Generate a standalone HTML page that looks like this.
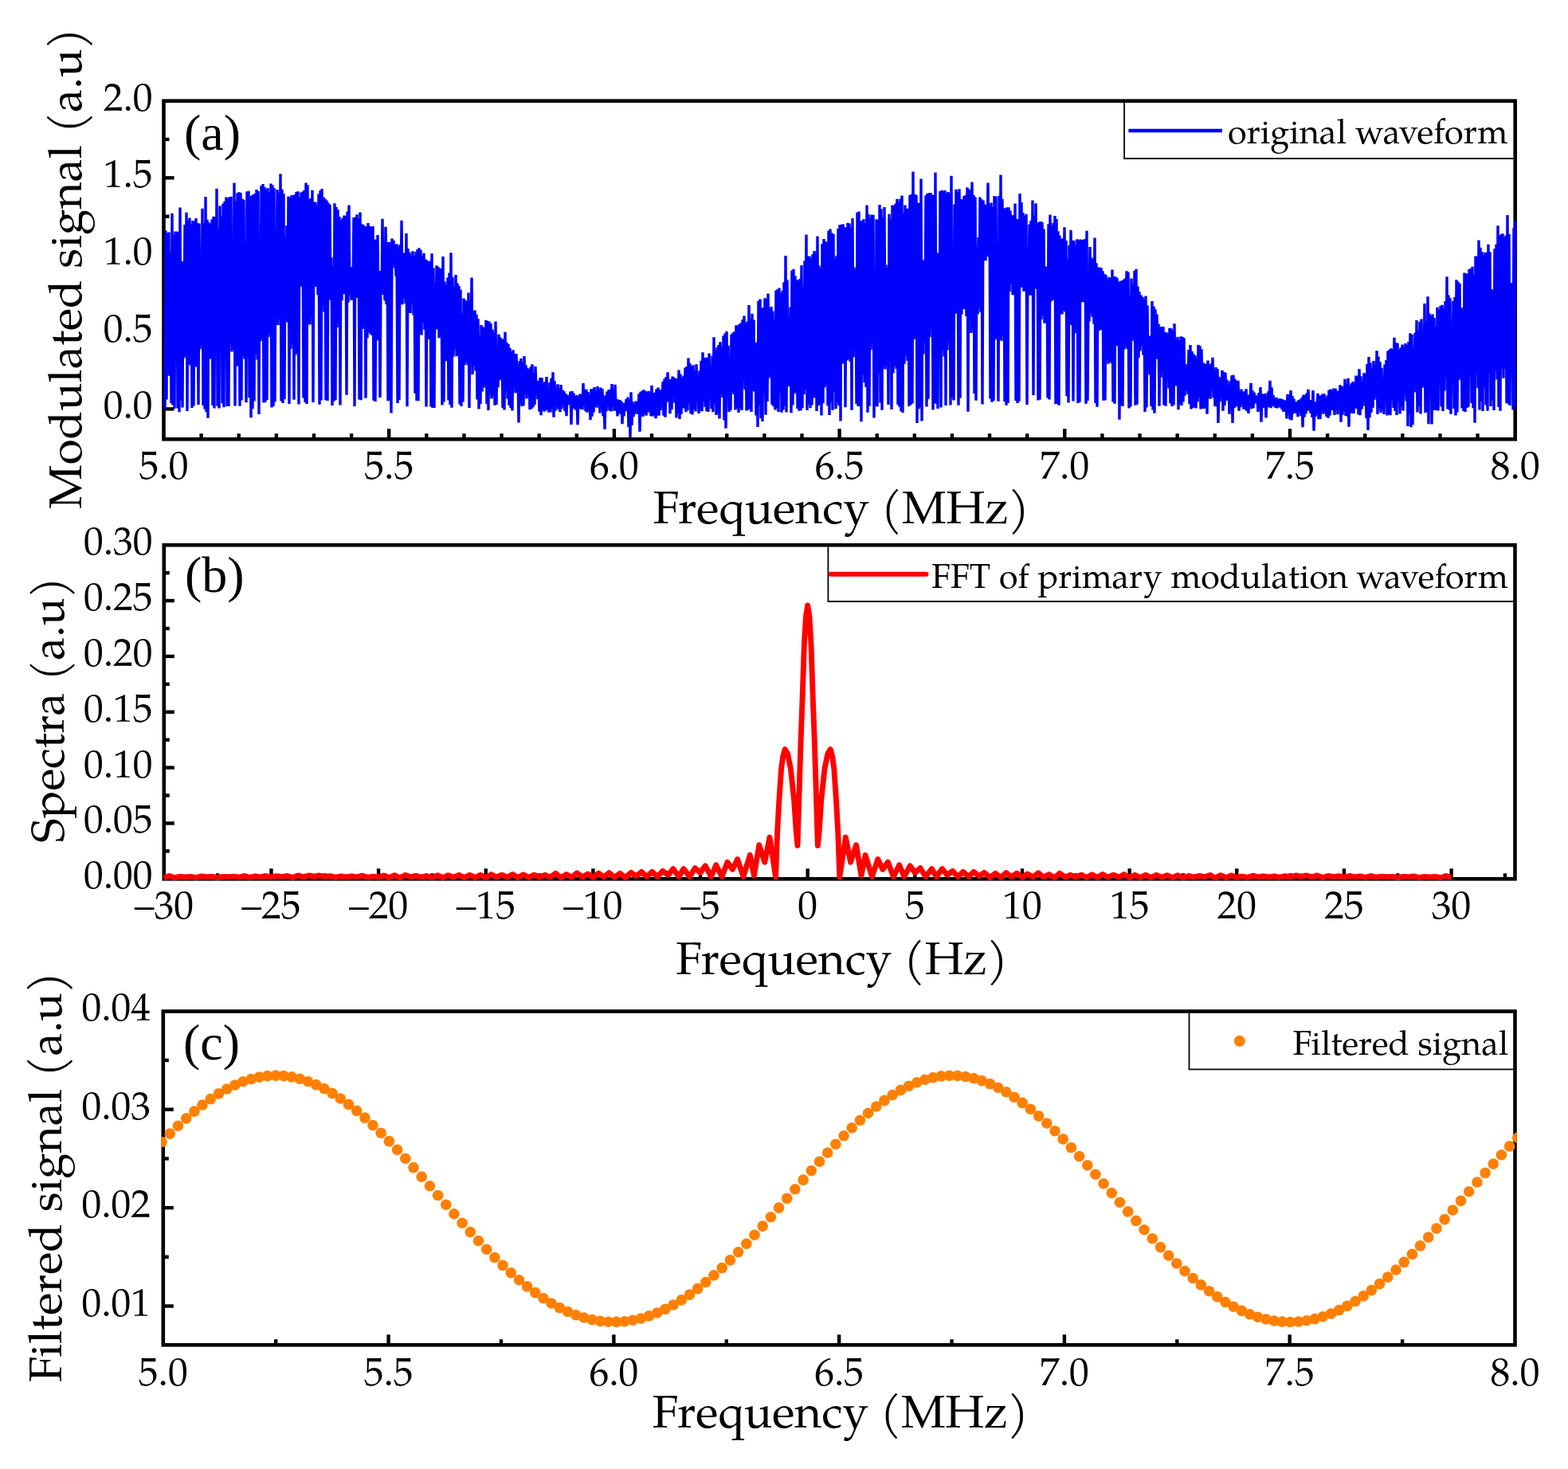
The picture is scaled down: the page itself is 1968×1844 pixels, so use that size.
<!DOCTYPE html>
<html><head><meta charset="utf-8"><title>Figure</title><style>html,body{margin:0;padding:0;background:#fff;}svg{display:block;}</style></head><body>
<svg width="1968" height="1844" viewBox="0 0 1968 1844">
<rect width="1968" height="1844" fill="#fff"/>
<defs>
<clipPath id="ca"><rect x="203.2" y="124.4" width="1700.8" height="429.2"/></clipPath>
<clipPath id="cc"><rect x="202.5" y="1267.2" width="1701.3" height="423.4"/></clipPath>
</defs>
<rect x="205.5" y="126.7" width="1696.2" height="424.6" fill="none" stroke="#000" stroke-width="4.6" stroke-linejoin="miter"/>
<rect x="205.8" y="684.2" width="1695.7" height="419.1" fill="none" stroke="#000" stroke-width="4.6" stroke-linejoin="miter"/>
<rect x="204.8" y="1269.5" width="1696.7" height="418.8" fill="none" stroke="#000" stroke-width="4.6" stroke-linejoin="miter"/>
<line x1="205.5" y1="513.40" x2="218.50" y2="513.40" stroke="#000" stroke-width="4.4"/>
<line x1="205.5" y1="416.70" x2="218.50" y2="416.70" stroke="#000" stroke-width="4.4"/>
<line x1="205.5" y1="320.00" x2="218.50" y2="320.00" stroke="#000" stroke-width="4.4"/>
<line x1="205.5" y1="223.30" x2="218.50" y2="223.30" stroke="#000" stroke-width="4.4"/>
<line x1="205.5" y1="465.05" x2="212.50" y2="465.05" stroke="#000" stroke-width="4.4"/>
<line x1="205.5" y1="368.35" x2="212.50" y2="368.35" stroke="#000" stroke-width="4.4"/>
<line x1="205.5" y1="271.65" x2="212.50" y2="271.65" stroke="#000" stroke-width="4.4"/>
<line x1="205.5" y1="174.95" x2="212.50" y2="174.95" stroke="#000" stroke-width="4.4"/>
<line x1="488.20" y1="551.3" x2="488.20" y2="538.30" stroke="#000" stroke-width="4.4"/>
<line x1="770.90" y1="551.3" x2="770.90" y2="538.30" stroke="#000" stroke-width="4.4"/>
<line x1="1053.60" y1="551.3" x2="1053.60" y2="538.30" stroke="#000" stroke-width="4.4"/>
<line x1="1336.30" y1="551.3" x2="1336.30" y2="538.30" stroke="#000" stroke-width="4.4"/>
<line x1="1619.00" y1="551.3" x2="1619.00" y2="538.30" stroke="#000" stroke-width="4.4"/>
<line x1="252.62" y1="551.3" x2="252.62" y2="544.30" stroke="#000" stroke-width="4.4"/>
<line x1="299.73" y1="551.3" x2="299.73" y2="544.30" stroke="#000" stroke-width="4.4"/>
<line x1="346.85" y1="551.3" x2="346.85" y2="544.30" stroke="#000" stroke-width="4.4"/>
<line x1="393.97" y1="551.3" x2="393.97" y2="544.30" stroke="#000" stroke-width="4.4"/>
<line x1="441.08" y1="551.3" x2="441.08" y2="544.30" stroke="#000" stroke-width="4.4"/>
<line x1="535.32" y1="551.3" x2="535.32" y2="544.30" stroke="#000" stroke-width="4.4"/>
<line x1="582.43" y1="551.3" x2="582.43" y2="544.30" stroke="#000" stroke-width="4.4"/>
<line x1="629.55" y1="551.3" x2="629.55" y2="544.30" stroke="#000" stroke-width="4.4"/>
<line x1="676.67" y1="551.3" x2="676.67" y2="544.30" stroke="#000" stroke-width="4.4"/>
<line x1="723.78" y1="551.3" x2="723.78" y2="544.30" stroke="#000" stroke-width="4.4"/>
<line x1="818.02" y1="551.3" x2="818.02" y2="544.30" stroke="#000" stroke-width="4.4"/>
<line x1="865.13" y1="551.3" x2="865.13" y2="544.30" stroke="#000" stroke-width="4.4"/>
<line x1="912.25" y1="551.3" x2="912.25" y2="544.30" stroke="#000" stroke-width="4.4"/>
<line x1="959.37" y1="551.3" x2="959.37" y2="544.30" stroke="#000" stroke-width="4.4"/>
<line x1="1006.48" y1="551.3" x2="1006.48" y2="544.30" stroke="#000" stroke-width="4.4"/>
<line x1="1100.72" y1="551.3" x2="1100.72" y2="544.30" stroke="#000" stroke-width="4.4"/>
<line x1="1147.83" y1="551.3" x2="1147.83" y2="544.30" stroke="#000" stroke-width="4.4"/>
<line x1="1194.95" y1="551.3" x2="1194.95" y2="544.30" stroke="#000" stroke-width="4.4"/>
<line x1="1242.07" y1="551.3" x2="1242.07" y2="544.30" stroke="#000" stroke-width="4.4"/>
<line x1="1289.18" y1="551.3" x2="1289.18" y2="544.30" stroke="#000" stroke-width="4.4"/>
<line x1="1383.42" y1="551.3" x2="1383.42" y2="544.30" stroke="#000" stroke-width="4.4"/>
<line x1="1430.53" y1="551.3" x2="1430.53" y2="544.30" stroke="#000" stroke-width="4.4"/>
<line x1="1477.65" y1="551.3" x2="1477.65" y2="544.30" stroke="#000" stroke-width="4.4"/>
<line x1="1524.77" y1="551.3" x2="1524.77" y2="544.30" stroke="#000" stroke-width="4.4"/>
<line x1="1571.88" y1="551.3" x2="1571.88" y2="544.30" stroke="#000" stroke-width="4.4"/>
<line x1="1666.12" y1="551.3" x2="1666.12" y2="544.30" stroke="#000" stroke-width="4.4"/>
<line x1="1713.23" y1="551.3" x2="1713.23" y2="544.30" stroke="#000" stroke-width="4.4"/>
<line x1="1760.35" y1="551.3" x2="1760.35" y2="544.30" stroke="#000" stroke-width="4.4"/>
<line x1="1807.47" y1="551.3" x2="1807.47" y2="544.30" stroke="#000" stroke-width="4.4"/>
<line x1="1854.58" y1="551.3" x2="1854.58" y2="544.30" stroke="#000" stroke-width="4.4"/>
<line x1="205.8" y1="1033.45" x2="218.80" y2="1033.45" stroke="#000" stroke-width="4.4"/>
<line x1="205.8" y1="963.60" x2="218.80" y2="963.60" stroke="#000" stroke-width="4.4"/>
<line x1="205.8" y1="893.75" x2="218.80" y2="893.75" stroke="#000" stroke-width="4.4"/>
<line x1="205.8" y1="823.90" x2="218.80" y2="823.90" stroke="#000" stroke-width="4.4"/>
<line x1="205.8" y1="754.05" x2="218.80" y2="754.05" stroke="#000" stroke-width="4.4"/>
<line x1="205.8" y1="1068.38" x2="212.80" y2="1068.38" stroke="#000" stroke-width="4.4"/>
<line x1="205.8" y1="998.52" x2="212.80" y2="998.52" stroke="#000" stroke-width="4.4"/>
<line x1="205.8" y1="928.67" x2="212.80" y2="928.67" stroke="#000" stroke-width="4.4"/>
<line x1="205.8" y1="858.83" x2="212.80" y2="858.83" stroke="#000" stroke-width="4.4"/>
<line x1="205.8" y1="788.97" x2="212.80" y2="788.97" stroke="#000" stroke-width="4.4"/>
<line x1="205.8" y1="719.12" x2="212.80" y2="719.12" stroke="#000" stroke-width="4.4"/>
<line x1="340.45" y1="1103.3" x2="340.45" y2="1090.30" stroke="#000" stroke-width="4.4"/>
<line x1="475.10" y1="1103.3" x2="475.10" y2="1090.30" stroke="#000" stroke-width="4.4"/>
<line x1="609.75" y1="1103.3" x2="609.75" y2="1090.30" stroke="#000" stroke-width="4.4"/>
<line x1="744.40" y1="1103.3" x2="744.40" y2="1090.30" stroke="#000" stroke-width="4.4"/>
<line x1="879.05" y1="1103.3" x2="879.05" y2="1090.30" stroke="#000" stroke-width="4.4"/>
<line x1="1013.70" y1="1103.3" x2="1013.70" y2="1090.30" stroke="#000" stroke-width="4.4"/>
<line x1="1148.35" y1="1103.3" x2="1148.35" y2="1090.30" stroke="#000" stroke-width="4.4"/>
<line x1="1283.00" y1="1103.3" x2="1283.00" y2="1090.30" stroke="#000" stroke-width="4.4"/>
<line x1="1417.65" y1="1103.3" x2="1417.65" y2="1090.30" stroke="#000" stroke-width="4.4"/>
<line x1="1552.30" y1="1103.3" x2="1552.30" y2="1090.30" stroke="#000" stroke-width="4.4"/>
<line x1="1686.95" y1="1103.3" x2="1686.95" y2="1090.30" stroke="#000" stroke-width="4.4"/>
<line x1="1821.60" y1="1103.3" x2="1821.60" y2="1090.30" stroke="#000" stroke-width="4.4"/>
<line x1="273.12" y1="1103.3" x2="273.12" y2="1096.30" stroke="#000" stroke-width="4.4"/>
<line x1="407.77" y1="1103.3" x2="407.77" y2="1096.30" stroke="#000" stroke-width="4.4"/>
<line x1="542.42" y1="1103.3" x2="542.42" y2="1096.30" stroke="#000" stroke-width="4.4"/>
<line x1="677.08" y1="1103.3" x2="677.08" y2="1096.30" stroke="#000" stroke-width="4.4"/>
<line x1="811.72" y1="1103.3" x2="811.72" y2="1096.30" stroke="#000" stroke-width="4.4"/>
<line x1="946.38" y1="1103.3" x2="946.38" y2="1096.30" stroke="#000" stroke-width="4.4"/>
<line x1="1081.03" y1="1103.3" x2="1081.03" y2="1096.30" stroke="#000" stroke-width="4.4"/>
<line x1="1215.67" y1="1103.3" x2="1215.67" y2="1096.30" stroke="#000" stroke-width="4.4"/>
<line x1="1350.33" y1="1103.3" x2="1350.33" y2="1096.30" stroke="#000" stroke-width="4.4"/>
<line x1="1484.97" y1="1103.3" x2="1484.97" y2="1096.30" stroke="#000" stroke-width="4.4"/>
<line x1="1619.62" y1="1103.3" x2="1619.62" y2="1096.30" stroke="#000" stroke-width="4.4"/>
<line x1="1754.27" y1="1103.3" x2="1754.27" y2="1096.30" stroke="#000" stroke-width="4.4"/>
<line x1="1888.92" y1="1103.3" x2="1888.92" y2="1096.30" stroke="#000" stroke-width="4.4"/>
<line x1="204.8" y1="1639.50" x2="217.80" y2="1639.50" stroke="#000" stroke-width="4.4"/>
<line x1="204.8" y1="1516.10" x2="217.80" y2="1516.10" stroke="#000" stroke-width="4.4"/>
<line x1="204.8" y1="1392.70" x2="217.80" y2="1392.70" stroke="#000" stroke-width="4.4"/>
<line x1="204.8" y1="1577.80" x2="211.80" y2="1577.80" stroke="#000" stroke-width="4.4"/>
<line x1="204.8" y1="1454.40" x2="211.80" y2="1454.40" stroke="#000" stroke-width="4.4"/>
<line x1="204.8" y1="1331.00" x2="211.80" y2="1331.00" stroke="#000" stroke-width="4.4"/>
<line x1="487.58" y1="1688.3" x2="487.58" y2="1675.30" stroke="#000" stroke-width="4.4"/>
<line x1="770.37" y1="1688.3" x2="770.37" y2="1675.30" stroke="#000" stroke-width="4.4"/>
<line x1="1053.15" y1="1688.3" x2="1053.15" y2="1675.30" stroke="#000" stroke-width="4.4"/>
<line x1="1335.93" y1="1688.3" x2="1335.93" y2="1675.30" stroke="#000" stroke-width="4.4"/>
<line x1="1618.72" y1="1688.3" x2="1618.72" y2="1675.30" stroke="#000" stroke-width="4.4"/>
<line x1="346.19" y1="1688.3" x2="346.19" y2="1681.30" stroke="#000" stroke-width="4.4"/>
<line x1="628.98" y1="1688.3" x2="628.98" y2="1681.30" stroke="#000" stroke-width="4.4"/>
<line x1="911.76" y1="1688.3" x2="911.76" y2="1681.30" stroke="#000" stroke-width="4.4"/>
<line x1="1194.54" y1="1688.3" x2="1194.54" y2="1681.30" stroke="#000" stroke-width="4.4"/>
<line x1="1477.33" y1="1688.3" x2="1477.33" y2="1681.30" stroke="#000" stroke-width="4.4"/>
<line x1="1760.11" y1="1688.3" x2="1760.11" y2="1681.30" stroke="#000" stroke-width="4.4"/>
<path clip-path="url(#ca)" d="M207.0,512.9 208.0,289.4 209.0,501.6 210.0,292.8 211.0,470.3 212.0,291.4 213.0,472.0 214.0,317.8 215.0,506.3 216.0,267.8 217.0,508.6 218.0,295.0 219.0,512.9 220.0,290.5 221.0,448.4 222.0,290.6 223.0,512.4 224.0,292.1 225.0,517.3 226.0,260.4 227.0,502.5 228.0,328.0 229.0,511.6 230.0,328.3 231.0,449.5 232.0,281.9 233.0,446.5 234.0,266.8 235.0,516.1 236.0,276.8 237.0,457.3 238.0,273.6 239.0,458.5 240.0,280.9 241.0,511.9 242.0,277.1 243.0,509.6 244.0,277.5 245.0,460.3 246.0,274.0 247.0,460.6 248.0,280.0 249.0,507.9 250.0,280.6 251.0,438.5 252.0,341.4 253.0,433.9 254.0,261.7 255.0,508.9 256.0,280.1 257.0,513.5 258.0,247.0 259.0,517.3 260.0,275.8 261.0,524.7 262.0,279.3 263.0,449.6 264.0,281.1 265.0,450.7 266.0,275.6 267.0,509.1 268.0,271.7 269.0,512.5 270.0,272.4 271.0,442.3 272.0,236.8 273.0,509.8 274.0,287.4 275.0,512.4 276.0,258.5 277.0,434.0 278.0,271.4 279.0,506.2 280.0,255.7 281.0,511.2 282.0,252.8 283.0,449.4 284.0,247.6 285.0,510.0 286.0,248.7 287.0,510.0 288.0,247.6 289.0,431.8 290.0,246.8 291.0,441.6 292.0,316.4 293.0,438.2 294.0,229.5 295.0,509.4 296.0,252.2 297.0,458.9 298.0,242.3 299.0,459.7 300.0,241.3 301.0,509.7 302.0,242.1 303.0,502.5 304.0,249.4 305.0,447.3 306.0,250.8 307.0,450.5 308.0,303.1 309.0,505.3 310.0,240.5 311.0,447.9 312.0,239.8 313.0,499.3 314.0,246.5 315.0,524.3 316.0,245.5 317.0,513.2 318.0,244.2 319.0,503.5 320.0,243.0 321.0,444.2 322.0,237.9 323.0,451.5 324.0,239.9 325.0,520.1 326.0,299.5 327.0,428.2 328.0,233.0 329.0,424.9 330.0,231.1 331.0,505.5 332.0,234.8 333.0,504.8 334.0,238.1 335.0,502.0 336.0,235.9 337.0,419.1 338.0,241.5 339.0,423.2 340.0,230.5 341.0,511.5 342.0,232.5 343.0,510.0 344.0,236.1 345.0,504.5 346.0,289.5 347.0,401.1 348.0,238.0 349.0,408.1 350.0,241.7 351.0,400.8 352.0,218.3 353.0,503.5 354.0,237.8 355.0,505.9 356.0,243.3 357.0,501.1 358.0,298.1 359.0,389.4 360.0,282.9 361.0,404.5 362.0,246.5 363.0,507.0 364.0,248.4 365.0,437.9 366.0,245.0 367.0,432.4 368.0,245.2 369.0,501.8 370.0,244.3 371.0,445.5 372.0,241.0 373.0,443.3 374.0,240.3 375.0,507.4 376.0,247.2 377.0,356.9 378.0,241.4 379.0,359.8 380.0,240.4 381.0,499.5 382.0,238.8 383.0,505.1 384.0,229.4 385.0,507.1 386.0,232.2 387.0,406.8 388.0,250.5 389.0,407.4 390.0,249.1 391.0,397.1 392.0,238.8 393.0,505.1 394.0,253.7 395.0,360.1 396.0,253.5 397.0,359.4 398.0,257.4 399.0,370.3 400.0,243.5 401.0,507.7 402.0,239.2 403.0,502.4 404.0,237.1 405.0,382.2 406.0,247.6 407.0,391.6 408.0,249.4 409.0,502.2 410.0,251.5 411.0,503.0 412.0,254.4 413.0,372.6 414.0,256.7 415.0,376.6 416.0,323.2 417.0,508.9 418.0,334.1 419.0,503.7 420.0,255.2 421.0,501.9 422.0,260.0 423.0,410.9 424.0,263.2 425.0,404.9 426.0,272.1 427.0,508.5 428.0,276.2 429.0,377.0 430.0,273.7 431.0,369.3 432.0,270.4 433.0,365.2 434.0,271.2 435.0,495.8 436.0,265.5 437.0,379.8 438.0,257.5 439.0,371.0 440.0,335.2 441.0,376.7 442.0,338.4 443.0,372.6 444.0,272.9 445.0,509.9 446.0,272.5 447.0,374.1 448.0,269.2 449.0,370.4 450.0,273.9 451.0,501.6 452.0,266.6 453.0,502.2 454.0,281.3 455.0,410.1 456.0,282.2 457.0,413.1 458.0,284.3 459.0,499.8 460.0,284.1 461.0,424.5 462.0,280.1 463.0,417.1 464.0,283.7 465.0,419.5 466.0,285.1 467.0,420.7 468.0,284.1 469.0,502.8 470.0,300.6 471.0,504.0 472.0,300.7 473.0,427.0 474.0,294.9 475.0,427.4 476.0,339.9 477.0,499.1 478.0,350.0 479.0,368.7 480.0,274.7 481.0,370.0 482.0,303.5 483.0,377.6 484.0,284.7 485.0,381.9 486.0,303.9 487.0,503.3 488.0,304.0 489.0,502.4 490.0,303.8 491.0,518.5 492.0,299.4 493.0,336.4 494.0,301.9 495.0,333.0 496.0,307.4 497.0,346.8 498.0,306.4 499.0,506.0 500.0,309.5 501.0,502.1 502.0,306.9 503.0,381.3 504.0,276.7 505.0,382.2 506.0,317.8 507.0,374.4 508.0,317.3 509.0,380.9 510.0,293.0 511.0,510.3 512.0,312.0 513.0,392.7 514.0,316.5 515.0,393.1 516.0,320.0 517.0,380.6 518.0,315.3 519.0,395.4 520.0,321.1 521.0,493.7 522.0,315.9 523.0,502.9 524.0,313.0 525.0,503.2 526.0,311.2 527.0,415.4 528.0,313.7 529.0,420.5 530.0,321.1 531.0,405.2 532.0,317.7 533.0,414.1 534.0,325.4 535.0,510.5 536.0,326.7 537.0,425.4 538.0,329.1 539.0,425.9 540.0,327.5 541.0,510.4 542.0,318.2 543.0,512.1 544.0,336.5 545.0,511.9 546.0,354.2 547.0,413.4 548.0,333.2 549.0,413.4 550.0,335.1 551.0,424.2 552.0,337.2 553.0,417.1 554.0,336.7 555.0,508.4 556.0,322.1 557.0,504.5 558.0,353.6 559.0,453.6 560.0,357.2 561.0,452.4 562.0,348.5 563.0,502.6 564.0,342.6 565.0,508.1 566.0,317.3 567.0,511.8 568.0,347.8 569.0,447.8 570.0,360.2 571.0,437.7 572.0,344.9 573.0,447.2 574.0,355.4 575.0,446.2 576.0,358.8 577.0,507.5 578.0,363.4 579.0,509.9 580.0,393.5 581.0,504.4 582.0,374.4 583.0,458.2 584.0,376.8 585.0,454.6 586.0,378.7 587.0,458.2 588.0,367.6 589.0,512.0 590.0,376.6 591.0,456.9 592.0,348.6 593.0,470.0 594.0,389.9 595.0,459.3 596.0,389.5 597.0,465.6 598.0,394.7 599.0,501.6 600.0,400.2 601.0,513.6 602.0,421.1 603.0,507.1 604.0,408.1 605.0,491.4 606.0,410.3 607.0,486.8 608.0,411.7 609.0,484.3 610.0,401.7 611.0,507.2 612.0,402.9 613.0,514.9 614.0,403.5 615.0,495.3 616.0,406.0 617.0,500.6 618.0,413.4 619.0,497.8 620.0,417.2 621.0,508.7 622.0,403.5 623.0,508.0 624.0,439.1 625.0,486.2 626.0,419.8 627.0,477.3 628.0,423.5 629.0,476.1 630.0,426.2 631.0,512.1 632.0,425.2 633.0,514.5 634.0,416.7 635.0,490.7 636.0,430.1 637.0,500.4 638.0,432.1 639.0,508.7 640.0,437.1 641.0,512.3 642.0,441.5 643.0,515.4 644.0,439.4 645.0,482.0 646.0,444.5 647.0,493.1 648.0,444.1 649.0,483.7 650.0,464.0 651.0,530.5 652.0,453.3 653.0,506.4 654.0,450.0 655.0,509.9 656.0,455.3 657.0,509.4 658.0,447.0 659.0,493.9 660.0,458.2 661.0,500.4 662.0,462.4 663.0,487.3 664.0,463.4 665.0,514.1 666.0,460.5 667.0,513.2 668.0,457.4 669.0,511.1 670.0,469.4 671.0,508.1 672.0,460.1 673.0,492.1 674.0,477.8 675.0,501.1 676.0,478.4 677.0,516.7 678.0,474.1 679.0,521.2 680.0,474.2 681.0,514.9 682.0,481.4 683.0,516.6 684.0,479.2 685.0,515.5 686.0,473.0 687.0,514.1 688.0,486.5 689.0,517.8 690.0,480.1 691.0,517.4 692.0,474.9 693.0,513.5 694.0,467.3 695.0,523.7 696.0,478.2 697.0,515.7 698.0,488.6 699.0,511.3 700.0,482.3 701.0,514.1 702.0,489.4 703.0,517.3 704.0,483.1 705.0,513.2 706.0,489.5 707.0,506.1 708.0,491.4 709.0,516.1 710.0,494.2 711.0,522.3 712.0,495.7 713.0,508.2 714.0,498.3 715.0,507.8 716.0,491.5 717.0,533.0 718.0,491.0 719.0,505.8 720.0,493.6 721.0,513.2 722.0,497.7 723.0,514.6 724.0,496.1 725.0,533.3 726.0,498.6 727.0,511.3 728.0,494.6 729.0,513.4 730.0,496.4 731.0,514.2 732.0,481.1 733.0,508.6 734.0,488.7 735.0,516.3 736.0,488.9 737.0,517.6 738.0,492.2 739.0,510.5 740.0,496.2 741.0,527.2 742.0,488.4 743.0,522.9 744.0,488.3 745.0,517.7 746.0,486.1 747.0,509.4 748.0,493.0 749.0,511.7 750.0,485.0 751.0,506.7 752.0,488.8 753.0,518.4 754.0,486.5 755.0,512.7 756.0,488.4 757.0,522.5 758.0,497.7 759.0,538.9 760.0,496.4 761.0,516.3 762.0,491.5 763.0,509.2 764.0,489.4 765.0,515.4 766.0,488.8 767.0,516.4 768.0,482.1 769.0,510.2 770.0,493.1 771.0,515.6 772.0,482.7 773.0,515.6 774.0,500.8 775.0,522.4 776.0,501.8 777.0,519.6 778.0,502.0 779.0,515.4 780.0,503.7 781.0,532.1 782.0,505.8 783.0,522.3 784.0,506.0 785.0,516.2 786.0,501.0 787.0,513.3 788.0,498.6 789.0,535.9 790.0,502.4 791.0,548.9 792.0,492.3 793.0,534.0 794.0,504.4 795.0,523.2 796.0,507.6 797.0,519.8 798.0,503.7 799.0,516.9 800.0,505.5 801.0,519.8 802.0,494.2 803.0,541.9 804.0,491.8 805.0,518.6 806.0,490.6 807.0,522.9 808.0,489.3 809.0,519.3 810.0,490.9 811.0,521.6 812.0,492.3 813.0,518.0 814.0,490.9 815.0,515.8 816.0,492.2 817.0,522.2 818.0,483.9 819.0,522.8 820.0,493.0 821.0,520.6 822.0,492.8 823.0,525.2 824.0,488.5 825.0,521.6 826.0,486.6 827.0,521.6 828.0,489.6 829.0,515.3 830.0,489.4 831.0,503.9 832.0,479.0 833.0,521.7 834.0,475.6 835.0,523.8 836.0,473.3 837.0,504.8 838.0,467.4 839.0,503.4 840.0,476.1 841.0,519.3 842.0,476.2 843.0,514.0 844.0,472.6 845.0,496.2 846.0,473.7 847.0,505.7 848.0,475.0 849.0,524.4 850.0,475.9 851.0,518.3 852.0,464.6 853.0,526.0 854.0,469.5 855.0,520.0 856.0,474.1 857.0,511.6 858.0,471.5 859.0,512.7 860.0,461.5 861.0,517.2 862.0,460.2 863.0,515.0 864.0,449.5 865.0,505.9 866.0,456.3 867.0,519.3 868.0,460.1 869.0,520.4 870.0,458.4 871.0,514.0 872.0,466.0 873.0,516.4 874.0,457.2 875.0,504.0 876.0,471.3 877.0,518.9 878.0,465.4 879.0,515.4 880.0,452.9 881.0,516.2 882.0,442.2 883.0,504.5 884.0,449.4 885.0,510.7 886.0,448.8 887.0,516.3 888.0,449.0 889.0,517.1 890.0,443.6 891.0,499.6 892.0,466.4 893.0,513.1 894.0,446.5 895.0,517.3 896.0,423.3 897.0,506.5 898.0,439.8 899.0,520.9 900.0,436.2 901.0,519.2 902.0,432.9 903.0,525.4 904.0,429.3 905.0,495.1 906.0,436.3 907.0,498.9 908.0,421.4 909.0,527.5 910.0,418.6 911.0,537.7 912.0,416.1 913.0,491.1 914.0,433.8 915.0,517.0 916.0,447.7 917.0,515.1 918.0,419.7 919.0,491.8 920.0,417.4 921.0,495.1 922.0,416.3 923.0,514.5 924.0,408.3 925.0,512.4 926.0,408.4 927.0,518.0 928.0,407.0 929.0,512.8 930.0,405.2 931.0,514.9 932.0,401.3 933.0,478.1 934.0,396.5 935.0,489.0 936.0,405.4 937.0,515.5 938.0,403.5 939.0,514.5 940.0,382.9 941.0,513.6 942.0,400.6 943.0,517.0 944.0,393.7 945.0,490.9 946.0,401.5 947.0,491.4 948.0,432.3 949.0,521.4 950.0,429.5 951.0,536.0 952.0,377.8 953.0,508.7 954.0,375.6 955.0,525.1 956.0,386.4 957.0,529.1 958.0,386.3 959.0,492.7 960.0,374.3 961.0,520.7 962.0,375.0 963.0,504.1 964.0,368.5 965.0,474.7 966.0,387.5 967.0,471.4 968.0,385.1 969.0,507.9 970.0,390.4 971.0,510.3 972.0,401.4 973.0,514.6 974.0,364.4 975.0,512.3 976.0,363.3 977.0,517.1 978.0,361.6 979.0,493.2 980.0,368.3 981.0,517.8 982.0,365.1 983.0,514.5 984.0,354.3 985.0,509.5 986.0,321.0 987.0,517.6 988.0,351.6 989.0,485.3 990.0,398.5 991.0,484.3 992.0,385.5 993.0,518.3 994.0,339.6 995.0,508.5 996.0,337.7 997.0,494.2 998.0,346.3 999.0,492.7 1000.0,351.2 1001.0,513.0 1002.0,352.1 1003.0,515.7 1004.0,350.0 1005.0,515.2 1006.0,333.1 1007.0,512.2 1008.0,360.0 1009.0,495.1 1010.0,327.3 1011.0,489.0 1012.0,294.6 1013.0,514.9 1014.0,322.1 1015.0,508.3 1016.0,321.6 1017.0,512.2 1018.0,324.2 1019.0,508.6 1020.0,319.2 1021.0,499.5 1022.0,315.0 1023.0,499.2 1024.0,317.0 1025.0,516.0 1026.0,296.5 1027.0,509.2 1028.0,333.5 1029.0,507.7 1030.0,336.5 1031.0,521.5 1032.0,305.9 1033.0,506.2 1034.0,300.0 1035.0,486.4 1036.0,302.9 1037.0,483.3 1038.0,304.7 1039.0,509.4 1040.0,289.7 1041.0,521.1 1042.0,287.4 1043.0,505.1 1044.0,292.5 1045.0,514.8 1046.0,293.8 1047.0,491.7 1048.0,325.0 1049.0,513.2 1050.0,320.9 1051.0,505.2 1052.0,287.1 1053.0,509.3 1054.0,282.2 1055.0,528.5 1056.0,282.0 1057.0,456.6 1058.0,281.2 1059.0,456.5 1060.0,284.9 1061.0,511.3 1062.0,285.8 1063.0,452.5 1064.0,279.8 1065.0,451.1 1066.0,280.6 1067.0,453.7 1068.0,285.4 1069.0,514.7 1070.0,274.0 1071.0,448.6 1072.0,335.6 1073.0,439.6 1074.0,338.5 1075.0,507.1 1076.0,266.8 1077.0,510.1 1078.0,265.6 1079.0,509.8 1080.0,277.4 1081.0,529.3 1082.0,276.9 1083.0,470.0 1084.0,274.9 1085.0,480.3 1086.0,279.9 1087.0,486.0 1088.0,257.6 1089.0,517.7 1090.0,268.7 1091.0,509.8 1092.0,274.0 1093.0,439.1 1094.0,269.5 1095.0,429.5 1096.0,269.7 1097.0,524.6 1098.0,342.0 1099.0,509.2 1100.0,275.2 1101.0,510.5 1102.0,276.3 1103.0,468.1 1104.0,257.0 1105.0,505.5 1106.0,262.3 1107.0,514.8 1108.0,272.5 1109.0,460.3 1110.0,260.0 1111.0,463.4 1112.0,332.4 1113.0,458.3 1114.0,336.1 1115.0,507.9 1116.0,268.8 1117.0,451.4 1118.0,275.2 1119.0,514.1 1120.0,257.6 1121.0,468.2 1122.0,257.9 1123.0,459.6 1124.0,255.4 1125.0,462.9 1126.0,249.7 1127.0,508.0 1128.0,253.5 1129.0,510.7 1130.0,249.7 1131.0,516.3 1132.0,245.4 1133.0,518.0 1134.0,267.7 1135.0,456.7 1136.0,257.4 1137.0,446.2 1138.0,261.9 1139.0,453.0 1140.0,261.7 1141.0,510.0 1142.0,245.0 1143.0,507.9 1144.0,243.7 1145.0,506.6 1146.0,215.5 1147.0,426.0 1148.0,243.7 1149.0,423.1 1150.0,244.7 1151.0,531.0 1152.0,254.5 1153.0,513.6 1154.0,254.9 1155.0,510.9 1156.0,224.4 1157.0,528.5 1158.0,327.8 1159.0,444.5 1160.0,326.0 1161.0,429.9 1162.0,245.2 1163.0,510.5 1164.0,243.1 1165.0,500.8 1166.0,242.3 1167.0,423.3 1168.0,241.9 1169.0,413.3 1170.0,244.7 1171.0,514.6 1172.0,244.4 1173.0,506.2 1174.0,216.6 1175.0,506.7 1176.0,317.0 1177.0,512.9 1178.0,320.1 1179.0,451.4 1180.0,240.1 1181.0,511.6 1182.0,238.7 1183.0,439.5 1184.0,239.9 1185.0,447.5 1186.0,239.0 1187.0,508.9 1188.0,242.4 1189.0,439.4 1190.0,241.1 1191.0,430.4 1192.0,242.5 1193.0,508.6 1194.0,220.8 1195.0,499.1 1196.0,315.7 1197.0,502.4 1198.0,256.5 1199.0,389.7 1200.0,237.8 1201.0,393.7 1202.0,240.7 1203.0,508.8 1204.0,237.3 1205.0,499.7 1206.0,250.0 1207.0,394.7 1208.0,250.6 1209.0,387.6 1210.0,245.9 1211.0,388.3 1212.0,245.0 1213.0,397.0 1214.0,235.2 1215.0,516.8 1216.0,237.6 1217.0,402.1 1218.0,238.9 1219.0,418.1 1220.0,228.6 1221.0,412.9 1222.0,244.9 1223.0,494.0 1224.0,247.5 1225.0,502.8 1226.0,308.5 1227.0,394.6 1228.0,297.9 1229.0,387.4 1230.0,247.4 1231.0,392.0 1232.0,250.2 1233.0,507.6 1234.0,251.6 1235.0,326.4 1236.0,256.4 1237.0,327.3 1238.0,258.4 1239.0,320.6 1240.0,229.6 1241.0,322.4 1242.0,257.7 1243.0,500.6 1244.0,254.6 1245.0,504.8 1246.0,260.0 1247.0,503.0 1248.0,246.1 1249.0,426.3 1250.0,246.6 1251.0,423.4 1252.0,307.2 1253.0,503.8 1254.0,245.7 1255.0,426.3 1256.0,219.4 1257.0,427.7 1258.0,249.8 1259.0,420.4 1260.0,261.3 1261.0,503.9 1262.0,261.4 1263.0,508.8 1264.0,260.3 1265.0,506.1 1266.0,260.2 1267.0,365.9 1268.0,264.5 1269.0,356.6 1270.0,270.0 1271.0,370.3 1272.0,270.6 1273.0,369.9 1274.0,255.6 1275.0,503.1 1276.0,274.7 1277.0,506.0 1278.0,275.3 1279.0,503.7 1280.0,243.0 1281.0,355.0 1282.0,254.0 1283.0,360.8 1284.0,266.9 1285.0,365.8 1286.0,271.1 1287.0,362.2 1288.0,268.8 1289.0,508.0 1290.0,323.7 1291.0,367.3 1292.0,281.4 1293.0,370.7 1294.0,277.1 1295.0,369.5 1296.0,251.6 1297.0,496.0 1298.0,270.3 1299.0,362.5 1300.0,255.2 1301.0,362.2 1302.0,280.3 1303.0,502.4 1304.0,279.0 1305.0,501.8 1306.0,278.1 1307.0,401.0 1308.0,279.1 1309.0,396.2 1310.0,287.5 1311.0,405.8 1312.0,334.3 1313.0,401.5 1314.0,335.3 1315.0,499.4 1316.0,281.2 1317.0,501.5 1318.0,269.5 1319.0,378.5 1320.0,283.4 1321.0,376.7 1322.0,279.7 1323.0,369.0 1324.0,271.1 1325.0,507.3 1326.0,274.9 1327.0,506.4 1328.0,290.3 1329.0,508.7 1330.0,295.8 1331.0,392.9 1332.0,300.6 1333.0,394.5 1334.0,299.1 1335.0,390.0 1336.0,285.2 1337.0,391.6 1338.0,302.1 1339.0,497.3 1340.0,325.4 1341.0,505.6 1342.0,308.0 1343.0,401.8 1344.0,288.7 1345.0,408.1 1346.0,301.7 1347.0,503.5 1348.0,302.1 1349.0,418.3 1350.0,307.5 1351.0,405.7 1352.0,300.3 1353.0,506.1 1354.0,301.8 1355.0,504.8 1356.0,300.5 1357.0,379.0 1358.0,301.5 1359.0,379.3 1360.0,300.8 1361.0,375.8 1362.0,299.9 1363.0,506.7 1364.0,289.7 1365.0,503.0 1366.0,371.5 1367.0,403.5 1368.0,310.1 1369.0,393.2 1370.0,323.5 1371.0,397.7 1372.0,325.5 1373.0,406.8 1374.0,298.6 1375.0,506.0 1376.0,330.3 1377.0,510.8 1378.0,335.4 1379.0,415.3 1380.0,335.6 1381.0,414.3 1382.0,336.2 1383.0,404.2 1384.0,340.3 1385.0,502.8 1386.0,343.9 1387.0,502.5 1388.0,345.0 1389.0,451.2 1390.0,349.9 1391.0,456.7 1392.0,348.1 1393.0,454.0 1394.0,348.8 1395.0,455.7 1396.0,338.6 1397.0,504.4 1398.0,346.9 1399.0,506.8 1400.0,347.3 1401.0,434.2 1402.0,348.8 1403.0,420.5 1404.0,354.5 1405.0,526.8 1406.0,352.7 1407.0,508.5 1408.0,352.4 1409.0,510.0 1410.0,351.2 1411.0,438.6 1412.0,349.6 1413.0,434.6 1414.0,340.3 1415.0,437.9 1416.0,341.6 1417.0,512.4 1418.0,371.1 1419.0,510.3 1420.0,349.6 1421.0,427.7 1422.0,356.5 1423.0,420.4 1424.0,340.0 1425.0,508.7 1426.0,337.8 1427.0,507.7 1428.0,359.4 1429.0,449.3 1430.0,366.3 1431.0,440.6 1432.0,370.5 1433.0,434.4 1434.0,372.8 1435.0,445.7 1436.0,375.6 1437.0,516.9 1438.0,371.4 1439.0,511.5 1440.0,383.4 1441.0,459.4 1442.0,424.6 1443.0,470.5 1444.0,421.6 1445.0,509.9 1446.0,378.1 1447.0,514.4 1448.0,384.6 1449.0,518.7 1450.0,388.4 1451.0,448.9 1452.0,394.5 1453.0,450.8 1454.0,406.5 1455.0,509.8 1456.0,410.3 1457.0,473.7 1458.0,410.0 1459.0,467.7 1460.0,410.2 1461.0,508.5 1462.0,417.1 1463.0,509.7 1464.0,417.4 1465.0,477.5 1466.0,418.5 1467.0,487.6 1468.0,411.7 1469.0,506.5 1470.0,412.2 1471.0,509.9 1472.0,414.9 1473.0,508.5 1474.0,406.3 1475.0,483.2 1476.0,426.3 1477.0,484.7 1478.0,422.9 1479.0,514.3 1480.0,426.9 1481.0,507.6 1482.0,422.3 1483.0,508.9 1484.0,422.8 1485.0,504.6 1486.0,424.3 1487.0,496.7 1488.0,457.0 1489.0,490.1 1490.0,460.2 1491.0,494.9 1492.0,439.1 1493.0,507.2 1494.0,432.9 1495.0,513.5 1496.0,441.0 1497.0,511.9 1498.0,444.2 1499.0,510.8 1500.0,446.3 1501.0,512.5 1502.0,449.8 1503.0,504.5 1504.0,432.9 1505.0,498.2 1506.0,434.2 1507.0,513.5 1508.0,438.3 1509.0,512.7 1510.0,455.3 1511.0,512.9 1512.0,456.5 1513.0,512.6 1514.0,456.8 1515.0,519.6 1516.0,452.6 1517.0,498.9 1518.0,458.0 1519.0,500.6 1520.0,456.3 1521.0,488.0 1522.0,448.8 1523.0,499.5 1524.0,465.7 1525.0,509.9 1526.0,461.1 1527.0,510.2 1528.0,463.1 1529.0,530.9 1530.0,473.1 1531.0,504.4 1532.0,475.9 1533.0,497.6 1534.0,464.7 1535.0,515.8 1536.0,467.1 1537.0,508.9 1538.0,467.7 1539.0,502.9 1540.0,476.9 1541.0,496.1 1542.0,483.4 1543.0,519.7 1544.0,478.3 1545.0,509.6 1546.0,471.3 1547.0,531.0 1548.0,470.7 1549.0,512.1 1550.0,475.7 1551.0,510.5 1552.0,478.1 1553.0,509.5 1554.0,477.8 1555.0,515.8 1556.0,491.7 1557.0,511.2 1558.0,488.6 1559.0,503.0 1560.0,492.2 1561.0,513.5 1562.0,491.3 1563.0,514.2 1564.0,488.4 1565.0,516.0 1566.0,497.5 1567.0,518.9 1568.0,495.4 1569.0,508.7 1570.0,480.9 1571.0,513.1 1572.0,490.0 1573.0,512.2 1574.0,492.7 1575.0,506.3 1576.0,496.2 1577.0,503.8 1578.0,499.5 1579.0,516.9 1580.0,493.1 1581.0,509.4 1582.0,486.0 1583.0,529.6 1584.0,494.3 1585.0,512.0 1586.0,495.3 1587.0,511.7 1588.0,493.8 1589.0,524.5 1590.0,500.1 1591.0,507.4 1592.0,491.3 1593.0,511.2 1594.0,477.8 1595.0,512.3 1596.0,486.3 1597.0,508.8 1598.0,496.0 1599.0,510.2 1600.0,502.2 1601.0,511.8 1602.0,498.8 1603.0,512.4 1604.0,502.9 1605.0,506.8 1606.0,500.5 1607.0,511.7 1608.0,500.6 1609.0,514.0 1610.0,501.6 1611.0,517.0 1612.0,502.4 1613.0,515.0 1614.0,502.5 1615.0,525.5 1616.0,494.8 1617.0,513.2 1618.0,495.7 1619.0,526.4 1620.0,490.1 1621.0,527.4 1622.0,497.1 1623.0,519.4 1624.0,500.6 1625.0,517.0 1626.0,505.1 1627.0,518.8 1628.0,504.0 1629.0,523.2 1630.0,502.1 1631.0,514.6 1632.0,501.4 1633.0,522.2 1634.0,498.8 1635.0,536.3 1636.0,495.6 1637.0,523.6 1638.0,496.3 1639.0,519.5 1640.0,493.5 1641.0,515.6 1642.0,488.7 1643.0,514.9 1644.0,504.8 1645.0,518.6 1646.0,502.0 1647.0,524.0 1648.0,490.1 1649.0,540.6 1650.0,507.5 1651.0,522.8 1652.0,504.0 1653.0,520.0 1654.0,493.8 1655.0,526.2 1656.0,496.5 1657.0,525.9 1658.0,496.3 1659.0,516.8 1660.0,494.6 1661.0,519.8 1662.0,494.2 1663.0,517.5 1664.0,499.9 1665.0,522.9 1666.0,496.5 1667.0,524.8 1668.0,489.9 1669.0,521.7 1670.0,488.6 1671.0,514.7 1672.0,490.1 1673.0,515.2 1674.0,487.6 1675.0,520.9 1676.0,487.5 1677.0,514.4 1678.0,490.5 1679.0,520.3 1680.0,490.9 1681.0,513.2 1682.0,483.3 1683.0,529.6 1684.0,484.6 1685.0,520.7 1686.0,486.3 1687.0,515.9 1688.0,475.8 1689.0,521.9 1690.0,481.7 1691.0,522.5 1692.0,474.9 1693.0,535.8 1694.0,484.0 1695.0,517.8 1696.0,481.2 1697.0,518.9 1698.0,479.0 1699.0,519.0 1700.0,480.9 1701.0,512.5 1702.0,471.6 1703.0,513.0 1704.0,471.8 1705.0,520.1 1706.0,463.3 1707.0,521.2 1708.0,472.3 1709.0,513.6 1710.0,479.4 1711.0,509.8 1712.0,468.2 1713.0,497.2 1714.0,469.5 1715.0,524.9 1716.0,457.0 1717.0,540.1 1718.0,447.9 1719.0,523.9 1720.0,455.4 1721.0,517.9 1722.0,462.5 1723.0,511.9 1724.0,453.1 1725.0,501.6 1726.0,457.6 1727.0,497.2 1728.0,440.3 1729.0,520.1 1730.0,447.6 1731.0,512.5 1732.0,454.1 1733.0,517.9 1734.0,461.8 1735.0,513.5 1736.0,474.5 1737.0,520.0 1738.0,457.6 1739.0,487.8 1740.0,452.1 1741.0,521.6 1742.0,440.4 1743.0,519.6 1744.0,438.7 1745.0,521.2 1746.0,437.2 1747.0,502.4 1748.0,438.4 1749.0,511.9 1750.0,423.7 1751.0,516.0 1752.0,430.2 1753.0,521.0 1754.0,430.8 1755.0,503.4 1756.0,439.2 1757.0,519.5 1758.0,436.5 1759.0,511.1 1760.0,432.5 1761.0,515.4 1762.0,434.6 1763.0,495.2 1764.0,431.1 1765.0,503.4 1766.0,433.3 1767.0,535.0 1768.0,429.1 1769.0,519.3 1770.0,418.2 1771.0,536.3 1772.0,419.9 1773.0,533.2 1774.0,436.8 1775.0,485.6 1776.0,417.9 1777.0,492.6 1778.0,401.9 1779.0,517.4 1780.0,414.8 1781.0,509.8 1782.0,403.7 1783.0,519.4 1784.0,400.5 1785.0,486.8 1786.0,429.0 1787.0,484.4 1788.0,381.0 1789.0,518.2 1790.0,403.8 1791.0,517.1 1792.0,372.2 1793.0,532.2 1794.0,393.5 1795.0,492.3 1796.0,396.5 1797.0,532.4 1798.0,394.4 1799.0,515.1 1800.0,399.0 1801.0,514.8 1802.0,409.9 1803.0,515.1 1804.0,385.8 1805.0,515.4 1806.0,388.7 1807.0,483.3 1808.0,383.9 1809.0,510.6 1810.0,382.7 1811.0,516.1 1812.0,387.4 1813.0,490.6 1814.0,378.1 1815.0,474.5 1816.0,347.2 1817.0,513.6 1818.0,370.5 1819.0,514.6 1820.0,374.3 1821.0,519.7 1822.0,402.9 1823.0,481.5 1824.0,377.7 1825.0,513.0 1826.0,373.1 1827.0,521.4 1828.0,351.3 1829.0,517.4 1830.0,353.6 1831.0,477.1 1832.0,355.8 1833.0,473.9 1834.0,386.1 1835.0,512.5 1836.0,388.7 1837.0,515.9 1838.0,342.5 1839.0,517.1 1840.0,343.3 1841.0,512.0 1842.0,344.0 1843.0,510.8 1844.0,338.1 1845.0,472.2 1846.0,337.1 1847.0,506.0 1848.0,334.7 1849.0,512.3 1850.0,344.8 1851.0,530.7 1852.0,321.5 1853.0,468.6 1854.0,321.6 1855.0,487.3 1856.0,301.5 1857.0,514.4 1858.0,310.7 1859.0,503.4 1860.0,316.0 1861.0,516.0 1862.0,319.8 1863.0,486.3 1864.0,316.8 1865.0,508.5 1866.0,317.2 1867.0,515.8 1868.0,306.8 1869.0,468.6 1870.0,316.3 1871.0,510.1 1872.0,363.1 1873.0,502.2 1874.0,365.1 1875.0,514.9 1876.0,312.2 1877.0,465.0 1878.0,306.8 1879.0,476.4 1880.0,283.3 1881.0,510.9 1882.0,295.8 1883.0,515.8 1884.0,294.2 1885.0,463.3 1886.0,293.3 1887.0,474.8 1888.0,297.7 1889.0,463.1 1890.0,295.5 1891.0,506.3 1892.0,270.0 1893.0,506.7 1894.0,294.0 1895.0,508.9 1896.0,354.9 1897.0,464.2 1898.0,355.2 1899.0,514.6 1900.0,286.3 1901.0,510.8 1902.0,277.1" fill="none" stroke="#0000ff" stroke-width="3.4" stroke-linejoin="miter" stroke-miterlimit="3"/>
<path d="M205.8,1101.7 212.5,1099.5 219.3,1101.7 226.0,1100.4 232.7,1101.0 239.5,1100.4 246.2,1101.6 252.9,1099.9 259.7,1100.8 266.4,1100.4 273.1,1101.7 279.9,1100.4 286.6,1100.8 293.3,1100.1 300.1,1101.2 306.8,1099.5 313.5,1101.3 320.3,1099.8 327.0,1100.9 333.7,1099.5 340.5,1101.1 347.2,1099.7 353.9,1100.6 360.6,1099.5 367.4,1101.5 374.1,1098.9 380.8,1100.9 387.6,1099.0 394.3,1100.2 401.0,1099.0 407.8,1100.6 414.5,1099.7 421.2,1101.3 428.0,1099.8 434.7,1100.9 441.4,1099.8 448.2,1100.8 454.9,1099.2 461.6,1101.3 468.4,1100.1 475.1,1101.2 481.8,1098.9 488.6,1101.7 495.3,1098.7 502.0,1102.0 508.8,1098.4 515.5,1100.7 522.2,1099.3 529.0,1101.1 535.7,1099.4 542.4,1101.7 549.2,1098.8 555.9,1101.6 562.6,1098.6 569.4,1101.2 576.1,1098.3 582.8,1101.7 589.6,1098.3 596.3,1101.6 603.0,1098.3 609.8,1101.9 616.5,1097.6 623.2,1101.0 629.9,1098.2 636.7,1101.2 643.4,1097.5 650.1,1101.5 656.9,1097.9 663.6,1101.5 670.3,1098.1 677.1,1101.2 683.8,1098.3 690.5,1101.1 697.3,1096.2 704.0,1101.6 710.7,1097.6 717.5,1101.1 724.2,1095.8 730.9,1100.9 737.7,1096.9 744.4,1101.4 751.1,1096.1 757.9,1100.7 764.6,1095.6 771.3,1101.3 778.1,1096.3 784.8,1101.5 792.1,1095.3 798.3,1099.8 805.3,1094.4 811.7,1100.5 818.5,1094.4 825.2,1100.5 831.7,1093.4 838.7,1098.4 844.8,1090.6 852.1,1100.5 858.0,1090.6 865.6,1100.5 872.3,1089.7 879.0,1095.6 885.2,1086.8 892.5,1100.5 898.7,1085.8 906.0,1100.5 913.0,1082.2 919.4,1091.4 925.6,1078.6 932.9,1100.5 941.3,1073.4 946.4,1099.1 952.8,1060.7 959.8,1082.3 966.0,1051.1 973.6,1100.8 975.7,1043.2 977.9,1004.1 980.6,965.0 982.7,949.6 985.2,940.5 988.7,946.8 992.4,965.0 996.6,1004.1 999.2,1043.2 1001.0,1061.4 1001.6,1043.2 1004.0,965.0 1005.1,930.1 1007.0,879.8 1009.4,808.5 1011.5,773.6 1013.7,759.9 1015.9,773.6 1018.0,808.5 1020.4,879.8 1022.3,930.1 1023.4,965.0 1025.8,1043.2 1026.4,1061.4 1028.2,1043.2 1030.8,1004.1 1035.0,965.0 1038.7,946.8 1042.2,940.5 1044.7,949.6 1046.8,965.0 1049.5,1004.1 1051.7,1043.2 1053.8,1100.8 1061.4,1051.1 1067.6,1082.3 1074.6,1060.7 1081.0,1099.1 1086.1,1073.4 1094.5,1100.5 1101.8,1078.6 1108.0,1091.4 1114.4,1082.2 1121.4,1100.5 1128.7,1085.8 1134.9,1100.5 1142.2,1086.8 1148.3,1095.6 1155.1,1089.7 1161.8,1100.5 1169.4,1090.6 1175.3,1100.5 1182.6,1090.6 1188.7,1098.4 1195.7,1093.4 1202.2,1100.5 1208.9,1094.4 1215.7,1100.5 1222.1,1094.4 1229.1,1099.8 1235.3,1095.3 1242.6,1101.5 1249.3,1096.3 1256.1,1101.3 1262.8,1095.6 1269.5,1100.7 1276.3,1096.1 1283.0,1101.4 1289.7,1096.9 1296.5,1100.9 1303.2,1095.8 1309.9,1101.1 1316.7,1097.6 1323.4,1101.6 1330.1,1096.2 1336.9,1101.1 1343.6,1098.3 1350.3,1101.2 1357.1,1098.1 1363.8,1101.5 1370.5,1097.9 1377.3,1101.5 1384.0,1097.5 1390.7,1101.2 1397.5,1098.2 1404.2,1101.0 1410.9,1097.6 1417.6,1101.9 1424.4,1098.3 1431.1,1101.6 1437.8,1098.3 1444.6,1101.7 1451.3,1098.3 1458.0,1101.2 1464.8,1098.6 1471.5,1101.6 1478.2,1098.8 1485.0,1101.7 1491.7,1099.4 1498.4,1101.1 1505.2,1099.3 1511.9,1100.7 1518.6,1098.4 1525.4,1102.0 1532.1,1098.7 1538.8,1101.7 1545.6,1098.9 1552.3,1101.2 1559.0,1100.1 1565.8,1101.3 1572.5,1099.2 1579.2,1100.8 1586.0,1099.8 1592.7,1100.9 1599.4,1099.8 1606.2,1101.3 1612.9,1099.7 1619.6,1100.6 1626.4,1099.0 1633.1,1100.2 1639.8,1099.0 1646.6,1100.9 1653.3,1098.9 1660.0,1101.5 1666.8,1099.5 1673.5,1100.6 1680.2,1099.7 1687.0,1101.1 1693.7,1099.5 1700.4,1100.9 1707.1,1099.8 1713.9,1101.3 1720.6,1099.5 1727.3,1101.2 1734.1,1100.1 1740.8,1100.8 1747.5,1100.4 1754.3,1101.7 1761.0,1100.4 1767.7,1100.8 1774.5,1099.9 1781.2,1101.6 1787.9,1100.4 1794.7,1101.0 1801.4,1100.4 1808.1,1101.7 1814.9,1099.5 1821.6,1101.7" fill="none" stroke="#ff0000" stroke-width="6.9" stroke-linejoin="round" stroke-linecap="butt"/>
<g clip-path="url(#cc)" fill="#ff8000"><circle cx="203.1" cy="1433.5" r="6.8"/><circle cx="213.3" cy="1423.1" r="6.8"/><circle cx="223.5" cy="1413.3" r="6.8"/><circle cx="233.7" cy="1403.9" r="6.8"/><circle cx="243.9" cy="1395.1" r="6.8"/><circle cx="254.0" cy="1387.0" r="6.8"/><circle cx="264.2" cy="1379.6" r="6.8"/><circle cx="274.4" cy="1372.9" r="6.8"/><circle cx="284.6" cy="1367.0" r="6.8"/><circle cx="294.8" cy="1362.0" r="6.8"/><circle cx="305.0" cy="1357.8" r="6.8"/><circle cx="315.2" cy="1354.5" r="6.8"/><circle cx="325.4" cy="1352.1" r="6.8"/><circle cx="335.6" cy="1350.6" r="6.8"/><circle cx="345.8" cy="1350.1" r="6.8"/><circle cx="355.9" cy="1350.6" r="6.8"/><circle cx="366.1" cy="1351.9" r="6.8"/><circle cx="376.3" cy="1354.2" r="6.8"/><circle cx="386.5" cy="1357.5" r="6.8"/><circle cx="396.7" cy="1361.6" r="6.8"/><circle cx="406.9" cy="1366.6" r="6.8"/><circle cx="417.1" cy="1372.4" r="6.8"/><circle cx="427.3" cy="1379.0" r="6.8"/><circle cx="437.5" cy="1386.4" r="6.8"/><circle cx="447.7" cy="1394.4" r="6.8"/><circle cx="457.9" cy="1403.1" r="6.8"/><circle cx="468.0" cy="1412.5" r="6.8"/><circle cx="478.2" cy="1422.3" r="6.8"/><circle cx="488.4" cy="1432.6" r="6.8"/><circle cx="498.6" cy="1443.3" r="6.8"/><circle cx="508.8" cy="1454.3" r="6.8"/><circle cx="519.0" cy="1465.6" r="6.8"/><circle cx="529.2" cy="1477.1" r="6.8"/><circle cx="539.4" cy="1488.8" r="6.8"/><circle cx="549.6" cy="1500.5" r="6.8"/><circle cx="559.8" cy="1512.2" r="6.8"/><circle cx="569.9" cy="1523.8" r="6.8"/><circle cx="580.1" cy="1535.3" r="6.8"/><circle cx="590.3" cy="1546.5" r="6.8"/><circle cx="600.5" cy="1557.5" r="6.8"/><circle cx="610.7" cy="1568.2" r="6.8"/><circle cx="620.9" cy="1578.5" r="6.8"/><circle cx="631.1" cy="1588.4" r="6.8"/><circle cx="641.3" cy="1597.8" r="6.8"/><circle cx="651.5" cy="1606.7" r="6.8"/><circle cx="661.6" cy="1614.9" r="6.8"/><circle cx="671.8" cy="1622.6" r="6.8"/><circle cx="682.0" cy="1629.7" r="6.8"/><circle cx="692.2" cy="1636.0" r="6.8"/><circle cx="702.4" cy="1641.6" r="6.8"/><circle cx="712.6" cy="1646.5" r="6.8"/><circle cx="722.8" cy="1650.7" r="6.8"/><circle cx="733.0" cy="1654.0" r="6.8"/><circle cx="743.2" cy="1656.6" r="6.8"/><circle cx="753.4" cy="1658.4" r="6.8"/><circle cx="763.5" cy="1659.3" r="6.8"/><circle cx="773.7" cy="1659.4" r="6.8"/><circle cx="783.9" cy="1658.8" r="6.8"/><circle cx="794.1" cy="1657.3" r="6.8"/><circle cx="804.3" cy="1655.0" r="6.8"/><circle cx="814.5" cy="1651.9" r="6.8"/><circle cx="824.7" cy="1648.0" r="6.8"/><circle cx="834.9" cy="1643.4" r="6.8"/><circle cx="845.1" cy="1638.0" r="6.8"/><circle cx="855.3" cy="1631.9" r="6.8"/><circle cx="865.5" cy="1625.1" r="6.8"/><circle cx="875.6" cy="1617.6" r="6.8"/><circle cx="885.8" cy="1609.5" r="6.8"/><circle cx="896.0" cy="1600.9" r="6.8"/><circle cx="906.2" cy="1591.6" r="6.8"/><circle cx="916.4" cy="1581.9" r="6.8"/><circle cx="926.6" cy="1571.8" r="6.8"/><circle cx="936.8" cy="1561.2" r="6.8"/><circle cx="947.0" cy="1550.3" r="6.8"/><circle cx="957.2" cy="1539.1" r="6.8"/><circle cx="967.4" cy="1527.7" r="6.8"/><circle cx="977.5" cy="1516.1" r="6.8"/><circle cx="987.7" cy="1504.4" r="6.8"/><circle cx="997.9" cy="1492.7" r="6.8"/><circle cx="1008.1" cy="1481.1" r="6.8"/><circle cx="1018.3" cy="1469.5" r="6.8"/><circle cx="1028.5" cy="1458.1" r="6.8"/><circle cx="1038.7" cy="1447.0" r="6.8"/><circle cx="1048.9" cy="1436.2" r="6.8"/><circle cx="1059.1" cy="1425.7" r="6.8"/><circle cx="1069.2" cy="1415.7" r="6.8"/><circle cx="1079.4" cy="1406.2" r="6.8"/><circle cx="1089.6" cy="1397.3" r="6.8"/><circle cx="1099.8" cy="1389.0" r="6.8"/><circle cx="1110.0" cy="1381.4" r="6.8"/><circle cx="1120.2" cy="1374.5" r="6.8"/><circle cx="1130.4" cy="1368.4" r="6.8"/><circle cx="1140.6" cy="1363.2" r="6.8"/><circle cx="1150.8" cy="1358.8" r="6.8"/><circle cx="1161.0" cy="1355.2" r="6.8"/><circle cx="1171.1" cy="1352.6" r="6.8"/><circle cx="1181.3" cy="1350.9" r="6.8"/><circle cx="1191.5" cy="1350.2" r="6.8"/><circle cx="1201.7" cy="1350.4" r="6.8"/><circle cx="1211.9" cy="1351.5" r="6.8"/><circle cx="1222.1" cy="1353.6" r="6.8"/><circle cx="1232.3" cy="1356.6" r="6.8"/><circle cx="1242.5" cy="1360.5" r="6.8"/><circle cx="1252.7" cy="1365.2" r="6.8"/><circle cx="1262.9" cy="1370.8" r="6.8"/><circle cx="1273.0" cy="1377.3" r="6.8"/><circle cx="1283.2" cy="1384.4" r="6.8"/><circle cx="1293.4" cy="1392.3" r="6.8"/><circle cx="1303.6" cy="1400.9" r="6.8"/><circle cx="1313.8" cy="1410.0" r="6.8"/><circle cx="1324.0" cy="1419.7" r="6.8"/><circle cx="1334.2" cy="1429.9" r="6.8"/><circle cx="1344.4" cy="1440.5" r="6.8"/><circle cx="1354.6" cy="1451.5" r="6.8"/><circle cx="1364.8" cy="1462.8" r="6.8"/><circle cx="1374.9" cy="1474.2" r="6.8"/><circle cx="1385.1" cy="1485.8" r="6.8"/><circle cx="1395.3" cy="1497.5" r="6.8"/><circle cx="1405.5" cy="1509.2" r="6.8"/><circle cx="1415.7" cy="1520.9" r="6.8"/><circle cx="1425.9" cy="1532.4" r="6.8"/><circle cx="1436.1" cy="1543.7" r="6.8"/><circle cx="1446.3" cy="1554.8" r="6.8"/><circle cx="1456.5" cy="1565.6" r="6.8"/><circle cx="1466.7" cy="1576.0" r="6.8"/><circle cx="1476.8" cy="1586.0" r="6.8"/><circle cx="1487.0" cy="1595.5" r="6.8"/><circle cx="1497.2" cy="1604.5" r="6.8"/><circle cx="1507.4" cy="1612.9" r="6.8"/><circle cx="1517.6" cy="1620.7" r="6.8"/><circle cx="1527.8" cy="1627.9" r="6.8"/><circle cx="1538.0" cy="1634.5" r="6.8"/><circle cx="1548.2" cy="1640.3" r="6.8"/><circle cx="1558.4" cy="1645.4" r="6.8"/><circle cx="1568.6" cy="1649.7" r="6.8"/><circle cx="1578.7" cy="1653.2" r="6.8"/><circle cx="1588.9" cy="1656.0" r="6.8"/><circle cx="1599.1" cy="1658.0" r="6.8"/><circle cx="1609.3" cy="1659.1" r="6.8"/><circle cx="1619.5" cy="1659.5" r="6.8"/><circle cx="1629.7" cy="1659.0" r="6.8"/><circle cx="1639.9" cy="1657.7" r="6.8"/><circle cx="1650.1" cy="1655.6" r="6.8"/><circle cx="1660.3" cy="1652.7" r="6.8"/><circle cx="1670.5" cy="1649.1" r="6.8"/><circle cx="1680.6" cy="1644.6" r="6.8"/><circle cx="1690.8" cy="1639.4" r="6.8"/><circle cx="1701.0" cy="1633.5" r="6.8"/><circle cx="1711.2" cy="1626.9" r="6.8"/><circle cx="1721.4" cy="1619.6" r="6.8"/><circle cx="1731.6" cy="1611.6" r="6.8"/><circle cx="1741.8" cy="1603.1" r="6.8"/><circle cx="1752.0" cy="1594.0" r="6.8"/><circle cx="1762.2" cy="1584.4" r="6.8"/><circle cx="1772.4" cy="1574.4" r="6.8"/><circle cx="1782.5" cy="1563.9" r="6.8"/><circle cx="1792.7" cy="1553.1" r="6.8"/><circle cx="1802.9" cy="1542.0" r="6.8"/><circle cx="1813.1" cy="1530.6" r="6.8"/><circle cx="1823.3" cy="1519.0" r="6.8"/><circle cx="1833.5" cy="1507.4" r="6.8"/><circle cx="1843.7" cy="1495.7" r="6.8"/><circle cx="1853.9" cy="1484.0" r="6.8"/><circle cx="1864.1" cy="1472.4" r="6.8"/><circle cx="1874.3" cy="1461.0" r="6.8"/><circle cx="1884.4" cy="1449.8" r="6.8"/><circle cx="1894.6" cy="1438.9" r="6.8"/><circle cx="1904.8" cy="1428.3" r="6.8"/></g>
<text x="191.50" y="525.40" font-family="'TeX Gyre Pagella','Palatino Linotype','Book Antiqua',Palatino,'Liberation Serif',serif" font-size="49.5" text-anchor="end" >0.0</text>
<text x="191.50" y="428.70" font-family="'TeX Gyre Pagella','Palatino Linotype','Book Antiqua',Palatino,'Liberation Serif',serif" font-size="49.5" text-anchor="end" >0.5</text>
<text x="191.50" y="332.00" font-family="'TeX Gyre Pagella','Palatino Linotype','Book Antiqua',Palatino,'Liberation Serif',serif" font-size="49.5" text-anchor="end" >1.0</text>
<text x="191.50" y="235.30" font-family="'TeX Gyre Pagella','Palatino Linotype','Book Antiqua',Palatino,'Liberation Serif',serif" font-size="49.5" text-anchor="end" >1.5</text>
<text x="191.50" y="138.60" font-family="'TeX Gyre Pagella','Palatino Linotype','Book Antiqua',Palatino,'Liberation Serif',serif" font-size="49.5" text-anchor="end" >2.0</text>
<text x="205.50" y="600.50" font-family="'TeX Gyre Pagella','Palatino Linotype','Book Antiqua',Palatino,'Liberation Serif',serif" font-size="49.5" text-anchor="middle" >5.0</text>
<text x="488.20" y="600.50" font-family="'TeX Gyre Pagella','Palatino Linotype','Book Antiqua',Palatino,'Liberation Serif',serif" font-size="49.5" text-anchor="middle" >5.5</text>
<text x="770.90" y="600.50" font-family="'TeX Gyre Pagella','Palatino Linotype','Book Antiqua',Palatino,'Liberation Serif',serif" font-size="49.5" text-anchor="middle" >6.0</text>
<text x="1053.60" y="600.50" font-family="'TeX Gyre Pagella','Palatino Linotype','Book Antiqua',Palatino,'Liberation Serif',serif" font-size="49.5" text-anchor="middle" >6.5</text>
<text x="1336.30" y="600.50" font-family="'TeX Gyre Pagella','Palatino Linotype','Book Antiqua',Palatino,'Liberation Serif',serif" font-size="49.5" text-anchor="middle" >7.0</text>
<text x="1619.00" y="600.50" font-family="'TeX Gyre Pagella','Palatino Linotype','Book Antiqua',Palatino,'Liberation Serif',serif" font-size="49.5" text-anchor="middle" >7.5</text>
<text x="1901.70" y="600.50" font-family="'TeX Gyre Pagella','Palatino Linotype','Book Antiqua',Palatino,'Liberation Serif',serif" font-size="49.5" text-anchor="middle" >8.0</text>
<text x="191.50" y="1115.30" font-family="'TeX Gyre Pagella','Palatino Linotype','Book Antiqua',Palatino,'Liberation Serif',serif" font-size="49.5" text-anchor="end" >0.00</text>
<text x="191.50" y="1045.45" font-family="'TeX Gyre Pagella','Palatino Linotype','Book Antiqua',Palatino,'Liberation Serif',serif" font-size="49.5" text-anchor="end" >0.05</text>
<text x="191.50" y="975.60" font-family="'TeX Gyre Pagella','Palatino Linotype','Book Antiqua',Palatino,'Liberation Serif',serif" font-size="49.5" text-anchor="end" >0.10</text>
<text x="191.50" y="905.75" font-family="'TeX Gyre Pagella','Palatino Linotype','Book Antiqua',Palatino,'Liberation Serif',serif" font-size="49.5" text-anchor="end" >0.15</text>
<text x="191.50" y="835.90" font-family="'TeX Gyre Pagella','Palatino Linotype','Book Antiqua',Palatino,'Liberation Serif',serif" font-size="49.5" text-anchor="end" >0.20</text>
<text x="191.50" y="766.05" font-family="'TeX Gyre Pagella','Palatino Linotype','Book Antiqua',Palatino,'Liberation Serif',serif" font-size="49.5" text-anchor="end" >0.25</text>
<text x="191.50" y="696.20" font-family="'TeX Gyre Pagella','Palatino Linotype','Book Antiqua',Palatino,'Liberation Serif',serif" font-size="49.5" text-anchor="end" >0.30</text>
<text x="205.80" y="1152.70" font-family="'TeX Gyre Pagella','Palatino Linotype','Book Antiqua',Palatino,'Liberation Serif',serif" font-size="49.5" text-anchor="middle" >–30</text>
<text x="340.45" y="1152.70" font-family="'TeX Gyre Pagella','Palatino Linotype','Book Antiqua',Palatino,'Liberation Serif',serif" font-size="49.5" text-anchor="middle" >–25</text>
<text x="475.10" y="1152.70" font-family="'TeX Gyre Pagella','Palatino Linotype','Book Antiqua',Palatino,'Liberation Serif',serif" font-size="49.5" text-anchor="middle" >–20</text>
<text x="609.75" y="1152.70" font-family="'TeX Gyre Pagella','Palatino Linotype','Book Antiqua',Palatino,'Liberation Serif',serif" font-size="49.5" text-anchor="middle" >–15</text>
<text x="744.40" y="1152.70" font-family="'TeX Gyre Pagella','Palatino Linotype','Book Antiqua',Palatino,'Liberation Serif',serif" font-size="49.5" text-anchor="middle" >–10</text>
<text x="879.05" y="1152.70" font-family="'TeX Gyre Pagella','Palatino Linotype','Book Antiqua',Palatino,'Liberation Serif',serif" font-size="49.5" text-anchor="middle" >–5</text>
<text x="1013.70" y="1152.70" font-family="'TeX Gyre Pagella','Palatino Linotype','Book Antiqua',Palatino,'Liberation Serif',serif" font-size="49.5" text-anchor="middle" >0</text>
<text x="1148.35" y="1152.70" font-family="'TeX Gyre Pagella','Palatino Linotype','Book Antiqua',Palatino,'Liberation Serif',serif" font-size="49.5" text-anchor="middle" >5</text>
<text x="1283.00" y="1152.70" font-family="'TeX Gyre Pagella','Palatino Linotype','Book Antiqua',Palatino,'Liberation Serif',serif" font-size="49.5" text-anchor="middle" >10</text>
<text x="1417.65" y="1152.70" font-family="'TeX Gyre Pagella','Palatino Linotype','Book Antiqua',Palatino,'Liberation Serif',serif" font-size="49.5" text-anchor="middle" >15</text>
<text x="1552.30" y="1152.70" font-family="'TeX Gyre Pagella','Palatino Linotype','Book Antiqua',Palatino,'Liberation Serif',serif" font-size="49.5" text-anchor="middle" >20</text>
<text x="1686.95" y="1152.70" font-family="'TeX Gyre Pagella','Palatino Linotype','Book Antiqua',Palatino,'Liberation Serif',serif" font-size="49.5" text-anchor="middle" >25</text>
<text x="1821.60" y="1152.70" font-family="'TeX Gyre Pagella','Palatino Linotype','Book Antiqua',Palatino,'Liberation Serif',serif" font-size="49.5" text-anchor="middle" >30</text>
<text x="189.00" y="1651.50" font-family="'TeX Gyre Pagella','Palatino Linotype','Book Antiqua',Palatino,'Liberation Serif',serif" font-size="49.5" text-anchor="end" >0.01</text>
<text x="189.00" y="1528.10" font-family="'TeX Gyre Pagella','Palatino Linotype','Book Antiqua',Palatino,'Liberation Serif',serif" font-size="49.5" text-anchor="end" >0.02</text>
<text x="189.00" y="1404.70" font-family="'TeX Gyre Pagella','Palatino Linotype','Book Antiqua',Palatino,'Liberation Serif',serif" font-size="49.5" text-anchor="end" >0.03</text>
<text x="189.00" y="1281.30" font-family="'TeX Gyre Pagella','Palatino Linotype','Book Antiqua',Palatino,'Liberation Serif',serif" font-size="49.5" text-anchor="end" >0.04</text>
<text x="204.80" y="1739.40" font-family="'TeX Gyre Pagella','Palatino Linotype','Book Antiqua',Palatino,'Liberation Serif',serif" font-size="49.5" text-anchor="middle" >5.0</text>
<text x="487.58" y="1739.40" font-family="'TeX Gyre Pagella','Palatino Linotype','Book Antiqua',Palatino,'Liberation Serif',serif" font-size="49.5" text-anchor="middle" >5.5</text>
<text x="770.37" y="1739.40" font-family="'TeX Gyre Pagella','Palatino Linotype','Book Antiqua',Palatino,'Liberation Serif',serif" font-size="49.5" text-anchor="middle" >6.0</text>
<text x="1053.15" y="1739.40" font-family="'TeX Gyre Pagella','Palatino Linotype','Book Antiqua',Palatino,'Liberation Serif',serif" font-size="49.5" text-anchor="middle" >6.5</text>
<text x="1335.93" y="1739.40" font-family="'TeX Gyre Pagella','Palatino Linotype','Book Antiqua',Palatino,'Liberation Serif',serif" font-size="49.5" text-anchor="middle" >7.0</text>
<text x="1618.72" y="1739.40" font-family="'TeX Gyre Pagella','Palatino Linotype','Book Antiqua',Palatino,'Liberation Serif',serif" font-size="49.5" text-anchor="middle" >7.5</text>
<text x="1901.50" y="1739.40" font-family="'TeX Gyre Pagella','Palatino Linotype','Book Antiqua',Palatino,'Liberation Serif',serif" font-size="49.5" text-anchor="middle" >8.0</text>
<text x="1056.00" y="656.50" font-family="'TeX Gyre Pagella','Palatino Linotype','Book Antiqua',Palatino,'Liberation Serif',serif" font-size="58.5" text-anchor="middle" >Frequency (MHz)</text>
<text x="1056.80" y="1223.00" font-family="'TeX Gyre Pagella','Palatino Linotype','Book Antiqua',Palatino,'Liberation Serif',serif" font-size="58.5" text-anchor="middle" >Frequency (Hz)</text>
<text x="1055.00" y="1792.30" font-family="'TeX Gyre Pagella','Palatino Linotype','Book Antiqua',Palatino,'Liberation Serif',serif" font-size="58.5" text-anchor="middle" >Frequency (MHz)</text>
<text x="102.00" y="336.90" font-family="'TeX Gyre Pagella','Palatino Linotype','Book Antiqua',Palatino,'Liberation Serif',serif" font-size="58.5" text-anchor="middle" transform="rotate(-90 102.00 336.90)">Modulated signal (a.u)</text>
<text x="80.00" y="890.90" font-family="'TeX Gyre Pagella','Palatino Linotype','Book Antiqua',Palatino,'Liberation Serif',serif" font-size="57.8" text-anchor="middle" transform="rotate(-90 80.00 890.90)">Spectra (a.u)</text>
<text x="77.50" y="1477.40" font-family="'TeX Gyre Pagella','Palatino Linotype','Book Antiqua',Palatino,'Liberation Serif',serif" font-size="58.5" text-anchor="middle" transform="rotate(-90 77.50 1477.40)">Filtered signal (a.u)</text>
<text x="231.00" y="187.70" font-family="'Liberation Serif','Times New Roman',Times,serif" font-size="64" text-anchor="start" >(a)</text>
<text x="232.00" y="743.20" font-family="'Liberation Serif','Times New Roman',Times,serif" font-size="64" text-anchor="start" >(b)</text>
<text x="230.00" y="1329.60" font-family="'Liberation Serif','Times New Roman',Times,serif" font-size="64" text-anchor="start" >(c)</text>
<path d="M1899.4,199.0 H1411.1 V129.0" fill="none" stroke="#000" stroke-width="1.8"/>
<line x1="1416.4" y1="164.0" x2="1534" y2="164.0" stroke="#0000ff" stroke-width="4.7"/>
<text x="1541.00" y="180.00" font-family="'TeX Gyre Pagella','Palatino Linotype','Book Antiqua',Palatino,'Liberation Serif',serif" font-size="43.3" text-anchor="start" >original waveform</text>
<path d="M1899.2,755.0 H1039.4 V686.5" fill="none" stroke="#000" stroke-width="1.8"/>
<line x1="1042.6" y1="720.7" x2="1162.5" y2="720.7" stroke="#ff0000" stroke-width="6" stroke-linecap="round"/>
<text x="1169.00" y="737.80" font-family="'TeX Gyre Pagella','Palatino Linotype','Book Antiqua',Palatino,'Liberation Serif',serif" font-size="43" text-anchor="start" >FFT of primary modulation waveform</text>
<path d="M1899.2,1342.4 H1492.5 V1271.8" fill="none" stroke="#000" stroke-width="1.8"/>
<circle cx="1555.8" cy="1306.8" r="7" fill="#ff8000"/>
<text x="1622.50" y="1323.80" font-family="'TeX Gyre Pagella','Palatino Linotype','Book Antiqua',Palatino,'Liberation Serif',serif" font-size="43" text-anchor="start" >Filtered signal</text>
</svg>
</body></html>
